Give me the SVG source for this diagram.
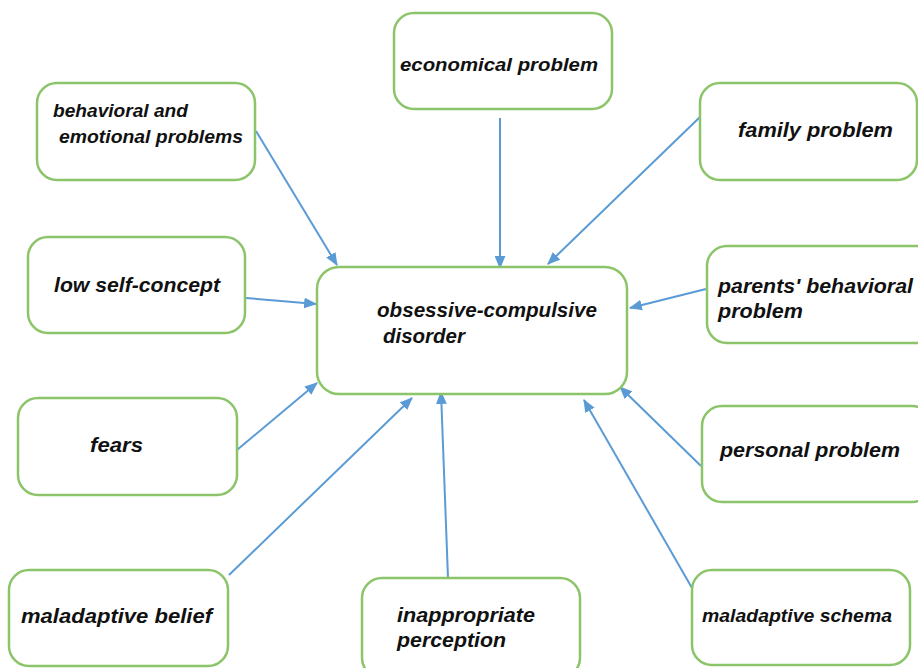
<svg xmlns="http://www.w3.org/2000/svg" width="918" height="668" viewBox="0 0 918 668">
  <defs>
    <marker id="arrow" viewBox="0 0 12 10" refX="11" refY="5" markerWidth="13" markerHeight="11" orient="auto" markerUnits="userSpaceOnUse">
      <path d="M0,0 L12,5 L0,10 z" fill="#5b9bd5"/>
    </marker>
    <style>
      .box { fill: #ffffff; stroke: #8cc46a; stroke-width: 2.5; }
      .lbl { font-family: "Liberation Sans", Arial, sans-serif; font-style: italic; font-weight: bold; font-size: 20px; fill: #111111; }
      .sm { font-size: 18px; }
      .link { stroke: #5b9bd5; stroke-width: 2; fill: none; marker-end: url(#arrow); }
    </style>
  </defs>
  <rect width="918" height="668" fill="#ffffff"/>

  <g id="connectors">
    <line class="link" x1="256" y1="131" x2="337" y2="265"/>
    <line class="link" x1="500" y1="118" x2="500" y2="268"/>
    <line class="link" x1="700" y1="117" x2="548" y2="264"/>
    <line class="link" x1="246" y1="298" x2="316" y2="304"/>
    <line class="link" x1="706" y1="289" x2="630" y2="308"/>
    <line class="link" x1="231" y1="455" x2="317" y2="383"/>
    <line class="link" x1="229" y1="575" x2="412" y2="398"/>
    <line class="link" x1="448" y1="578" x2="441" y2="392"/>
    <line class="link" x1="692" y1="588" x2="584" y2="400"/>
    <line class="link" x1="701" y1="466" x2="620" y2="387"/>
  </g>

  <g id="behavioral-emotional">
    <rect class="box" x="37" y="83" width="218" height="97" rx="20"/>
    <text class="lbl sm" x="53" y="117" textLength="135" lengthAdjust="spacingAndGlyphs">behavioral and</text>
    <text class="lbl sm" x="59" y="143" textLength="184" lengthAdjust="spacingAndGlyphs">emotional problems</text>
  </g>
  <g id="economical">
    <rect class="box" x="394" y="13" width="218" height="96" rx="20"/>
    <text class="lbl sm" x="400" y="71" textLength="198" lengthAdjust="spacingAndGlyphs">economical problem</text>
  </g>
  <g id="family">
    <rect class="box" x="700" y="83" width="217" height="97" rx="20"/>
    <text class="lbl" x="738" y="137" textLength="155" lengthAdjust="spacingAndGlyphs">family problem</text>
  </g>
  <g id="low-self-concept">
    <rect class="box" x="28" y="237" width="217" height="96" rx="20"/>
    <text class="lbl" x="54" y="292" textLength="166" lengthAdjust="spacingAndGlyphs">low self-concept</text>
  </g>
  <g id="ocd">
    <rect class="box" x="317" y="267" width="310" height="127" rx="22"/>
    <text class="lbl" x="377" y="317" textLength="220" lengthAdjust="spacingAndGlyphs">obsessive-compulsive</text>
    <text class="lbl" x="383" y="343" textLength="82" lengthAdjust="spacingAndGlyphs">disorder</text>
  </g>
  <g id="parents-behavioral">
    <rect class="box" x="707" y="246" width="230" height="97" rx="20"/>
    <text class="lbl" x="718" y="293" textLength="195" lengthAdjust="spacingAndGlyphs">parents' behavioral</text>
    <text class="lbl" x="718" y="318" textLength="85" lengthAdjust="spacingAndGlyphs">problem</text>
  </g>
  <g id="fears">
    <rect class="box" x="18" y="398" width="219" height="97" rx="20"/>
    <text class="lbl" x="90" y="452" textLength="53" lengthAdjust="spacingAndGlyphs">fears</text>
  </g>
  <g id="personal">
    <rect class="box" x="702" y="406" width="230" height="96" rx="20"/>
    <text class="lbl" x="720" y="457" textLength="180" lengthAdjust="spacingAndGlyphs">personal problem</text>
  </g>
  <g id="maladaptive-belief">
    <rect class="box" x="9" y="570" width="219" height="96" rx="20"/>
    <text class="lbl" x="21" y="623" textLength="191" lengthAdjust="spacingAndGlyphs">maladaptive belief</text>
  </g>
  <g id="inappropriate-perception">
    <rect class="box" x="362" y="578" width="218" height="100" rx="20"/>
    <text class="lbl" x="397" y="622" textLength="138" lengthAdjust="spacingAndGlyphs">inappropriate</text>
    <text class="lbl" x="397" y="647" textLength="109" lengthAdjust="spacingAndGlyphs">perception</text>
  </g>
  <g id="maladaptive-schema">
    <rect class="box" x="692" y="570" width="218" height="95" rx="20"/>
    <text class="lbl sm" x="702" y="622" textLength="190" lengthAdjust="spacingAndGlyphs">maladaptive schema</text>
  </g>
</svg>
